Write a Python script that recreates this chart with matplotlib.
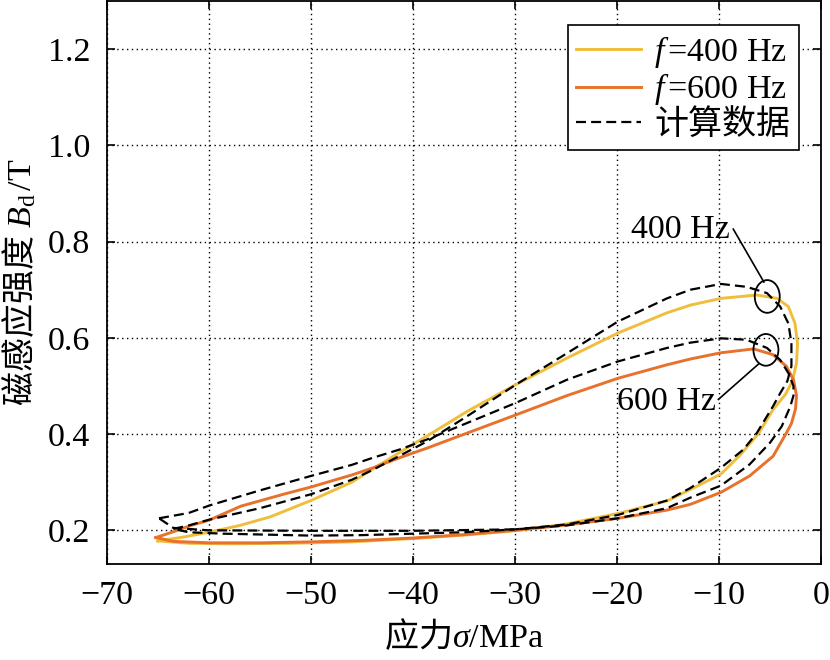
import numpy as np
import matplotlib.pyplot as plt
from matplotlib.patches import Ellipse

plt.rcParams['font.family'] = ['Liberation Serif', 'Noto Sans CJK SC']
plt.rcParams['mathtext.fontset'] = 'custom'
plt.rcParams['mathtext.rm'] = 'Liberation Serif'
plt.rcParams['mathtext.it'] = 'Liberation Serif:italic'
plt.rcParams['axes.unicode_minus'] = True

# 实测 f=400 Hz (上支从左到右, 再沿右侧向下, 下支从右回到左)
x_400 = [-65.0, -62.5, -60.0, -57.0, -54.0, -50.0, -46.0, -43.9, -41.3, -38.0, -34.7,
         -29.9, -24.9, -19.9, -15.1, -12.8, -9.8, -6.3, -4.3, -3.2, -2.55, -2.3, -2.4,
         -2.8, -3.5, -4.7, -6.1, -7.9, -9.8, -12.8, -15.1, -19.9, -25.0, -30.0, -35.0,
         -40.0, -46.0, -52.0, -58.0, -62.0, -65.0]
y_400 = [0.178, 0.186, 0.196, 0.210, 0.228, 0.262, 0.300, 0.328, 0.362, 0.404, 0.447,
         0.503, 0.558, 0.610, 0.652, 0.668, 0.682, 0.689, 0.682, 0.665, 0.630, 0.589, 0.548,
         0.510, 0.482, 0.451, 0.402, 0.357, 0.317, 0.285, 0.261, 0.235, 0.213, 0.199, 0.190,
         0.183, 0.176, 0.173, 0.172, 0.173, 0.178]

# 实测 f=600 Hz
x_600 = [-65.2, -63.5, -61.8, -60.0, -56.9, -52.7, -50.0, -46.0, -43.9, -41.3, -38.6,
         -34.7, -29.9, -24.9, -19.9, -15.1, -12.8, -9.8, -6.6, -4.7, -3.4, -2.7, -2.4,
         -2.5, -2.9, -3.4, -4.7, -7.0, -9.8, -12.8, -15.1, -19.9, -25.0, -30.0, -35.0,
         -40.0, -45.0, -50.0, -55.0, -60.0, -63.5, -65.2]
y_600 = [0.185, 0.197, 0.210, 0.221, 0.250, 0.275, 0.290, 0.315, 0.330, 0.351, 0.371,
         0.402, 0.440, 0.480, 0.516, 0.544, 0.556, 0.569, 0.577, 0.565, 0.541, 0.513, 0.480,
         0.452, 0.422, 0.402, 0.354, 0.313, 0.279, 0.254, 0.242, 0.225, 0.211, 0.200, 0.191,
         0.184, 0.179, 0.176, 0.174, 0.174, 0.177, 0.185]

# 计算数据 400 Hz
xc_400 = [-63.5, -62.0, -60.0, -55.0, -50.0, -46.0, -43.9, -41.3, -38.6, -34.7, -29.9,
          -24.9, -19.9, -15.1, -12.8, -9.8, -7.3, -5.3, -4.0, -3.2, -2.9, -2.9, -3.3,
          -4.0, -4.7, -6.3, -7.6, -9.8, -12.8, -15.1, -19.9, -25.0, -30.0, -35.0, -40.0,
          -45.0, -50.0, -58.6, -62.0, -63.5]
yc_400 = [0.203, 0.210, 0.222, 0.246, 0.275, 0.305, 0.326, 0.355, 0.385, 0.437, 0.503,
          0.568, 0.634, 0.682, 0.700, 0.712, 0.706, 0.693, 0.665, 0.630, 0.589, 0.541, 0.510,
          0.485, 0.458, 0.402, 0.368, 0.330, 0.288, 0.262, 0.232, 0.212, 0.202, 0.196, 0.193,
          0.190, 0.189, 0.193, 0.196, 0.203]

# 计算数据 600 Hz
xc_600 = [-64.9, -62.0, -59.9, -55.0, -50.0, -46.0, -43.9, -41.3, -38.6, -34.7, -29.9,
          -24.9, -19.9, -15.1, -12.8, -9.8, -7.3, -5.3, -4.0, -3.2, -2.7, -2.7, -3.0,
          -3.85, -5.0, -7.0, -9.8, -12.8, -15.1, -19.9, -25.0, -30.0, -40.0, -50.0, -60.0,
          -63.5, -64.9]
yc_600 = [0.225, 0.236, 0.252, 0.283, 0.313, 0.336, 0.351, 0.368, 0.389, 0.423, 0.465,
          0.513, 0.551, 0.579, 0.590, 0.599, 0.596, 0.579, 0.554, 0.527, 0.500, 0.480, 0.458,
          0.416, 0.382, 0.337, 0.293, 0.268, 0.246, 0.225, 0.210, 0.202, 0.199, 0.199, 0.200,
          0.205, 0.225]

x_ticks = [-70, -60, -50, -40, -30, -20, -10, 0]
y_ticks = [0.2, 0.4, 0.6, 0.8, 1.0, 1.2]

c400 = '#EFBE3C'
c600 = '#E8712B'
fs = 24.5

fig = plt.figure(figsize=(8.3, 6.6), dpi=100)
ax = fig.add_axes([107 / 830, 96 / 660, 714 / 830, 563 / 660])

ax.plot(x_400, y_400, color=c400, lw=2.1, label='$f\\,$=400 Hz', zorder=3)
ax.plot(x_600, y_600, color=c600, lw=2.1, label='$f\\,$=600 Hz', zorder=3)
ax.plot(xc_400, yc_400, color='black', lw=1.6, dashes=(4.5, 2.3), label='计算数据', zorder=4)
ax.plot(xc_600, yc_600, color='black', lw=1.6, dashes=(4.5, 2.3), zorder=4)

# 标注椭圆和引线
ax.add_patch(Ellipse((-5.27, 0.686), 2.45, 0.068, fill=False, ec='black', lw=1.3, zorder=5))
ax.add_patch(Ellipse((-5.4, 0.575), 2.45, 0.066, fill=False, ec='black', lw=1.3, zorder=5))
ax.plot([-8.6, -5.6], [0.826, 0.716], color='black', lw=1.2, zorder=5)
ax.plot([-10.06, -6.1], [0.472, 0.546], color='black', lw=1.2, zorder=5)
ax.text(-8.9, 0.808, '400 Hz', fontsize=fs, ha='right', va='baseline')
ax.text(-10.3, 0.451, '600 Hz', fontsize=fs, ha='right', va='baseline')

ax.set_xlim(-70, 0)
ax.set_ylim(0.13, 1.30)
ax.set_xticks(x_ticks)
ax.set_yticks(y_ticks)
ax.set_yticklabels(['%.1f' % v for v in y_ticks])
ax.grid(True, color='black', linestyle=(0, (1, 2.5)), lw=1.0)
ax.tick_params(direction='in', top=True, right=True, length=6, width=1.2,
               labelsize=fs)
ax.tick_params(axis='x', pad=12)
ax.tick_params(axis='y', pad=12)
for sp in ax.spines.values():
    sp.set_linewidth(1.3)

# 中文部分用 CJK 字体, 拉丁字母放进 mathtext 用衬线体
ax.set_xlabel('应力$\\sigma\\mathrm{/MPa}$', fontsize=fs, labelpad=6,
              family='Noto Sans CJK SC')
ax.set_ylabel('磁感应强度$\\ B_{\\mathrm{d}}\\,\\mathrm{/T}$', fontsize=fs, labelpad=6,
              family='Noto Sans CJK SC')

leg = ax.legend(loc='upper right', bbox_to_anchor=(0.969, 0.957), borderaxespad=0,
                fontsize=fs, fancybox=False, edgecolor='black', framealpha=1,
                handlelength=1.9, handletextpad=0.4, labelspacing=0.05, borderpad=0.25)
leg.get_frame().set_linewidth(1.2)

fig.savefig('out.png', dpi=100)
